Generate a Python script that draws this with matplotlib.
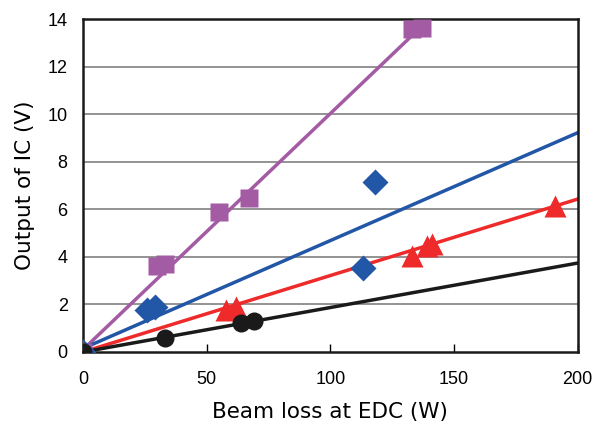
import numpy as np
import matplotlib
matplotlib.use('Agg')
import matplotlib.pyplot as plt

plt.rcParams['font.family'] = ['Liberation Sans', 'DejaVu Sans']

# Data
sq_x = [0, 30, 33, 55, 67, 133, 137]
sq_y = [0, 3.62, 3.7, 5.87, 6.47, 13.57, 13.62]
dia_x = [0, 26, 29, 113, 118]
dia_y = [0, 1.75, 1.88, 3.52, 7.14]
tri_x = [0, 58, 62, 133, 139, 141, 191]
tri_y = [0, 1.78, 1.88, 4.05, 4.45, 4.55, 6.12]
cir_x = [0, 33, 64, 69]
cir_y = [0, 0.6, 1.23, 1.32]

# Trend lines (start/end values)
sq_line_x = [0, 136]
sq_line_y = [0.1, 13.6]
dia_line_x = [0, 200]
dia_line_y = [0.15, 9.22]
tri_line_x = [0, 200]
tri_line_y = [0, 6.43]
cir_line_x = [0, 200]
cir_line_y = [0, 3.74]

purple = '#a35ba3'
blue = '#2256a6'
red = '#ee2a2a'
black = '#1a1a1a'

fig = plt.figure(figsize=(5.95, 4.3), dpi=100)
ax = fig.add_axes([0.1395, 0.1814, 0.8315, 0.7744])

for y in range(2, 14, 2):
    ax.axhline(y, color='#8a8a8a', lw=1.3, zorder=1)

ax.plot(sq_line_x, sq_line_y, color=purple, lw=2.5, zorder=2)
ax.plot(dia_line_x, dia_line_y, color=blue, lw=2.5, zorder=2)
ax.plot(tri_line_x, tri_line_y, color=red, lw=2.5, zorder=2)
ax.plot(cir_line_x, cir_line_y, color=black, lw=2.5, zorder=2)

ax.plot(sq_x, sq_y, 's', color=purple, ms=13.5, mec='none', zorder=3)
ax.plot(dia_x, dia_y, 'D', color=blue, ms=13.5, mec='none', zorder=4)
ax.plot(tri_x, tri_y, '^', color=red, ms=16, mec='none', zorder=5)
ax.plot(cir_x, cir_y, 'o', color=black, ms=13, mec='none', zorder=6)

ax.set_xlim(0, 200)
ax.set_ylim(0, 14)
ax.set_xticks([0, 50, 100, 150, 200])
ax.set_yticks(range(0, 15, 2))
ax.tick_params(axis='x', direction='in', length=6, width=1, pad=14, labelsize=13)
ax.tick_params(axis='y', length=0, pad=11, labelsize=13)
for s in ax.spines.values():
    s.set_linewidth(1.8)
    s.set_color('#1a1a1a')

ax.set_xlabel('Beam loss at EDC (W)', fontsize=15.5, family='DejaVu Sans', labelpad=10)
ax.set_ylabel('Output of IC (V)', fontsize=15.5, family='DejaVu Sans', labelpad=9)

fig.savefig('out.png', dpi=100)
